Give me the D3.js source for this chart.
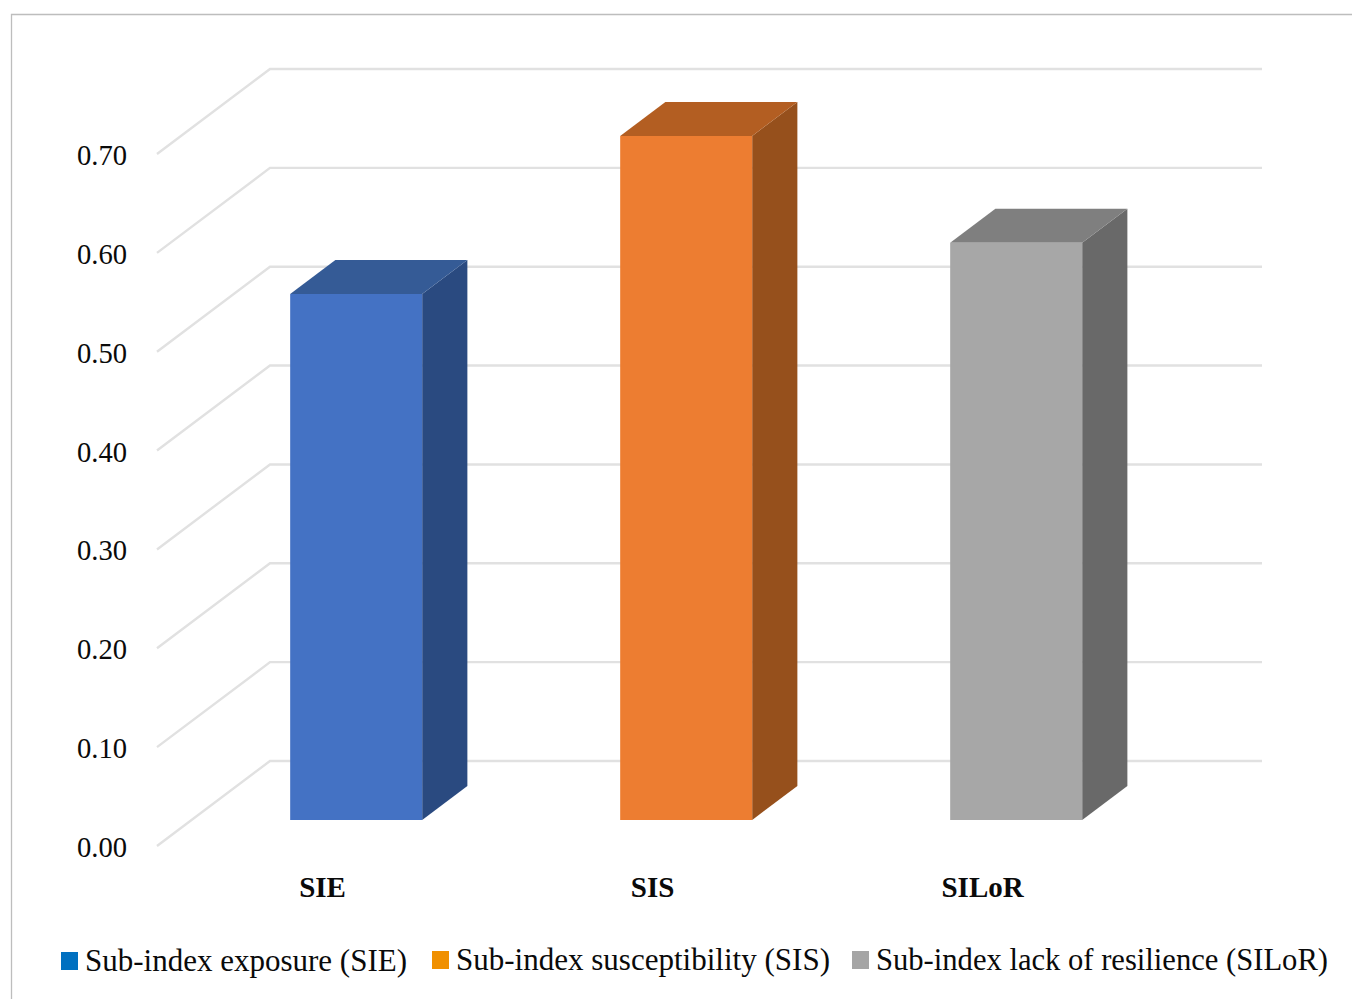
<!DOCTYPE html>
<html>
<head>
<meta charset="utf-8">
<style>
  html, body { margin: 0; padding: 0; background: #fff; }
  svg { display: block; }
  text { font-family: "Liberation Serif", serif; fill: #0a0a0a; }
</style>
<script src="https://cdn.jsdelivr.net/npm/d3@7/dist/d3.min.js"></script>
</head>
<body>
<svg id="chart" width="1352" height="999"></svg>
<script>
const categories = ["SIE", "SIS", "SILoR"];
const seriesValues = [0.532, 0.692, 0.584];
const tickValues = [0, 0.1, 0.2, 0.3, 0.4, 0.5, 0.6, 0.7];
const legendLabels = ["Sub-index exposure (SIE)", "Sub-index susceptibility (SIS)", "Sub-index lack of resilience (SILoR)"];
const frontColors = ["#4472c4", "#ed7d31", "#a7a7a7"];
const sideColors = ["#2a4a80", "#96501c", "#696969"];
const topColors = ["#355b96", "#b35e22", "#7f7f7f"];
const legendColors = ["#0070c0", "#f09000", "#a5a5a5"];

const svg = d3.select("#chart");

// Scales for the value axis, the categories along the floor and the depth into the box.
const y = d3.scaleLinear().domain([0, 0.7]).range([846, 154]);
const x = d3.scaleBand().domain(categories).range([156.6, 1146.6]).paddingInner(0.6).paddingOuter(0.3);
const depthX = d3.scaleLinear().domain([0, 1]).range([0, 113]);
const depthY = d3.scaleLinear().domain([0, 1]).range([0, -85]);
const barDepth = [0.306, 0.706];

// Oblique projection: floor position, value and depth give a screen point.
const project = (px, v, d) => [px + depthX(d), y(v) + depthY(d)];
const poly = pts => "M" + pts.map(p => p.join(",")).join("L") + "Z";

// Outer frame, open on the right and at the bottom.
svg.append("path")
  .attr("d", "M11.5,999V14.5H1352")
  .attr("fill", "none").attr("stroke", "#bdbdbd").attr("stroke-width", 1.3);

// Gridlines run up the left wall, then along the back wall.
const backRight = 1262 - 113;
svg.append("g").selectAll("path").data(tickValues).join("path")
  .attr("d", v => "M" + [project(157, v, 0), project(157, v, 1), project(backRight, v, 1)].map(p => p.join(",")).join("L"))
  .attr("fill", "none").attr("stroke", "#e1e1e1").attr("stroke-width", 2.4);

// Value labels.
svg.append("g").selectAll("text").data(tickValues).join("text")
  .attr("x", 127).attr("y", v => y(v) + 11)
  .attr("text-anchor", "end")
  .attr("font-size", 28.6)
  .text(d3.format(".2f"));

// Bars: side, top and front faces.
const bars = svg.append("g").selectAll("g").data(categories).join("g");
const [near, far] = barDepth;
bars.append("path")
  .attr("fill", (c, i) => sideColors[i])
  .attr("d", (c, i) => {
    const r = x(c) + x.bandwidth();
    return poly([project(r, 0, near), project(r, 0, far), project(r, seriesValues[i], far), project(r, seriesValues[i], near)]);
  });
bars.append("path")
  .attr("fill", (c, i) => topColors[i])
  .attr("d", (c, i) => {
    const l = x(c), r = l + x.bandwidth(), v = seriesValues[i];
    return poly([project(l, v, near), project(l, v, far), project(r, v, far), project(r, v, near)]);
  });
bars.append("path")
  .attr("fill", (c, i) => frontColors[i])
  .attr("d", (c, i) => {
    const l = x(c), r = l + x.bandwidth(), v = seriesValues[i];
    return poly([project(l, 0, near), project(l, v, near), project(r, v, near), project(r, 0, near)]);
  });

// Category labels.
svg.append("g").selectAll("text").data(categories).join("text")
  .attr("x", c => x(c) + x.bandwidth() / 2 + 1)
  .attr("y", 897)
  .attr("text-anchor", "middle")
  .attr("font-size", 29)
  .attr("font-weight", "bold")
  .text(c => c);

// Legend row.
const legendX = [61, 432, 852];
const legendTextX = [85, 456, 876];
const legendTextW = [322, 374, 452];
const legendBase = [971, 970, 970];
const legend = svg.append("g").selectAll("g").data(legendLabels).join("g");
legend.append("rect")
  .attr("x", (d, i) => legendX[i]).attr("y", (d, i) => legendBase[i] - 19)
  .attr("width", 17).attr("height", 18)
  .attr("fill", (d, i) => legendColors[i]);
legend.append("text")
  .attr("x", (d, i) => legendTextX[i]).attr("y", (d, i) => legendBase[i])
  .attr("font-size", 31)
  .attr("textLength", (d, i) => legendTextW[i])
  .attr("lengthAdjust", "spacingAndGlyphs")
  .text(d => d);
</script>
</body>
</html>
